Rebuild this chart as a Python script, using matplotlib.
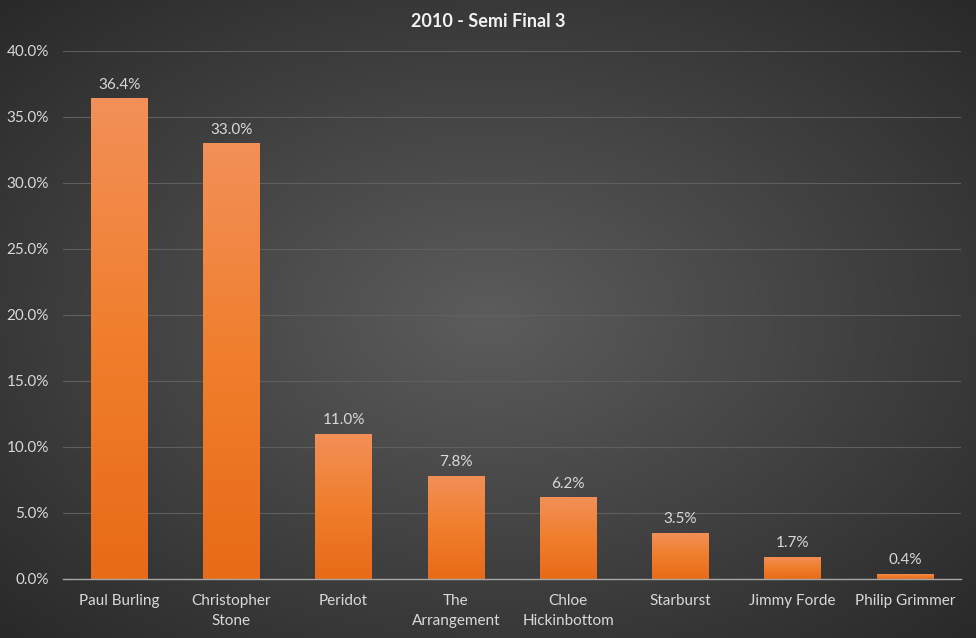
import numpy as np
import matplotlib
matplotlib.use("Agg")
import matplotlib.pyplot as plt
from matplotlib.colors import LinearSegmentedColormap
from matplotlib.ticker import PercentFormatter

names = ["Paul Burling", "Christopher\nStone", "Peridot", "The\nArrangement",
         "Chloe\nHickinbottom", "Starburst", "Jimmy Forde", "Philip Grimmer"]
shares = [36.4, 33.0, 11.0, 7.8, 6.2, 3.5, 1.7, 0.4]
title = "2010 - Semi Final 3"

plt.rcParams["font.family"] = ["Lato", "DejaVu Sans"]
text_col = "#D9D9D9"

fig = plt.figure(figsize=(9.76, 6.38), dpi=100)

# radial background
bg = fig.add_axes([0, 0, 1, 1], zorder=-10)
yy, xx = np.mgrid[0:1:400j, 0:1:600j]
r = np.sqrt(((xx - 0.5) / 0.75) ** 2 + ((yy - 0.5) / 0.75) ** 2)
bg_cmap = LinearSegmentedColormap.from_list("bg", ["#5c5c5c", "#262626"])
bg.imshow(np.clip(r, 0, 1), cmap=bg_cmap, vmin=0, vmax=1, aspect="auto",
          extent=[0, 1, 0, 1], interpolation="bicubic")
bg.axis("off")

ax = fig.add_axes([0.0645, 0.0925, 0.92, 0.828])
ax.patch.set_alpha(0)
x = np.arange(len(names))
bars = ax.bar(x, shares, width=0.5, color="none", zorder=3)

bar_cmap = LinearSegmentedColormap.from_list("bar", ["#E86B17", "#F07E2C", "#F29058"])
grad = np.linspace(0, 1, 256).reshape(-1, 1)
for b in bars:
    x0, w, h = b.get_x(), b.get_width(), b.get_height()
    im = ax.imshow(grad, cmap=bar_cmap, origin="lower", aspect="auto",
                   extent=[x0, x0 + w, 0, h], zorder=3)
    im.set_clip_path(b)
ax.set_xlim(-0.5, len(names) - 0.5)
ax.set_ylim(0, 40)

for xi, v in zip(x, shares):
    ax.text(xi, v + 0.5, f"{v:.1f}%", ha="center", va="bottom",
            color=text_col, fontsize=11)

ax.set_yticks(np.arange(0, 41, 5))
ax.yaxis.set_major_formatter(PercentFormatter(decimals=1))
ax.set_xticks(x)
ax.set_xticklabels(names, linespacing=1.5, va="top")
ax.grid(axis="y", color="#5f5f5f", linewidth=0.8, zorder=0)
ax.set_axisbelow(True)
for s in ["top", "right", "left"]:
    ax.spines[s].set_visible(False)
ax.spines["bottom"].set_color("#a6a6a6")
ax.spines["bottom"].set_linewidth(1.0)
ax.spines["bottom"].set_zorder(4)
ax.tick_params(axis="both", length=0, colors=text_col, labelsize=11)
ax.tick_params(axis="x", pad=11)
ax.tick_params(axis="y", pad=10)

fig.text(0.5, 0.967, title, ha="center", va="center", color="#F2F2F2",
         fontsize=13, fontweight="bold")

fig.savefig("out.png", dpi=100)
